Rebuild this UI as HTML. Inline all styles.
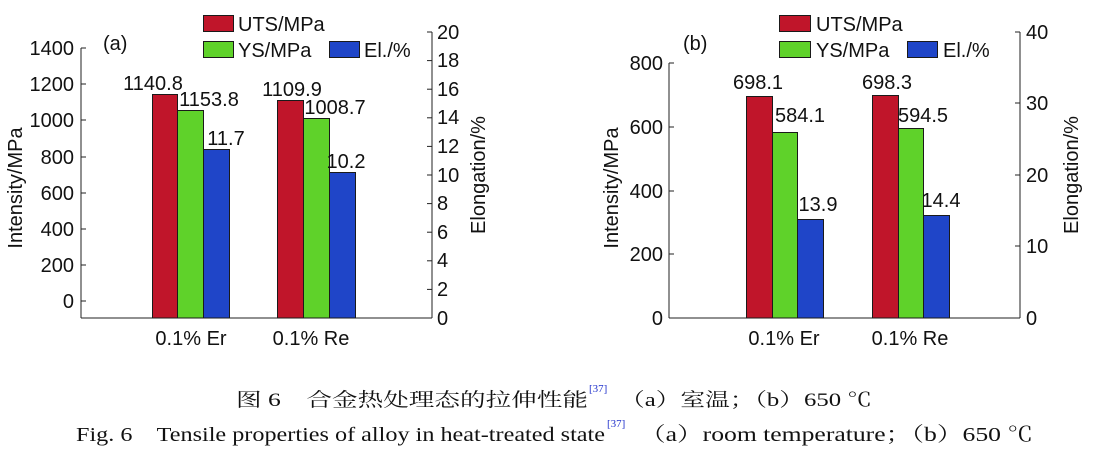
<!DOCTYPE html>
<html><head><meta charset="utf-8"><style>
html,body{margin:0;padding:0;background:#fff;}
svg{display:block;}
text{font-family:"Liberation Sans","DejaVu Sans",sans-serif;fill:#111;}
.s{font-family:"Liberation Serif","Noto Serif CJK SC",serif;}
</style></head><body>
<svg width="1108" height="456" viewBox="0 0 1108 456" xmlns="http://www.w3.org/2000/svg">
<g stroke="#222" stroke-width="1">
<line x1="81" y1="48" x2="81" y2="318"/>
<line x1="81" y1="318" x2="432" y2="318"/>
<line x1="432" y1="32" x2="432" y2="318"/>
<line x1="81" y1="48" x2="86" y2="48"/><line x1="81" y1="84" x2="86" y2="84"/><line x1="81" y1="120" x2="86" y2="120"/><line x1="81" y1="157" x2="86" y2="157"/><line x1="81" y1="193" x2="86" y2="193"/><line x1="81" y1="229" x2="86" y2="229"/><line x1="81" y1="265" x2="86" y2="265"/><line x1="81" y1="301" x2="86" y2="301"/>
<line x1="427" y1="32" x2="432" y2="32"/><line x1="427" y1="60.6" x2="432" y2="60.6"/><line x1="427" y1="89.2" x2="432" y2="89.2"/><line x1="427" y1="117.8" x2="432" y2="117.8"/><line x1="427" y1="146.4" x2="432" y2="146.4"/><line x1="427" y1="175" x2="432" y2="175"/><line x1="427" y1="203.6" x2="432" y2="203.6"/><line x1="427" y1="232.2" x2="432" y2="232.2"/><line x1="427" y1="260.8" x2="432" y2="260.8"/><line x1="427" y1="289.4" x2="432" y2="289.4"/>

<line x1="669" y1="63" x2="669" y2="318"/>
<line x1="669" y1="318" x2="1020" y2="318"/>
<line x1="1020" y1="32" x2="1020" y2="318"/>
<line x1="669" y1="63" x2="674" y2="63"/><line x1="669" y1="127" x2="674" y2="127"/><line x1="669" y1="191" x2="674" y2="191"/><line x1="669" y1="254" x2="674" y2="254"/>
<line x1="1015" y1="32" x2="1020" y2="32"/><line x1="1015" y1="103" x2="1020" y2="103"/><line x1="1015" y1="175" x2="1020" y2="175"/><line x1="1015" y1="246" x2="1020" y2="246"/>
</g>
<g stroke="#1a1a1a" stroke-width="1">
<rect x="152.5" y="94.5" width="25" height="223.5" fill="#c0152a"/>
<rect x="177.5" y="110.5" width="26" height="207.5" fill="#5fd22a"/>
<rect x="203.5" y="149.5" width="26" height="168.5" fill="#1f45c8"/>
<rect x="277.5" y="100.5" width="26" height="217.5" fill="#c0152a"/>
<rect x="303.5" y="118.5" width="26" height="199.5" fill="#5fd22a"/>
<rect x="329.5" y="172.5" width="26" height="145.5" fill="#1f45c8"/>
<rect x="203.5" y="15.5" width="30" height="16" fill="#c0152a"/>
<rect x="203.5" y="41.5" width="30" height="16" fill="#5fd22a"/>
<rect x="329.5" y="41.5" width="30" height="16" fill="#1f45c8"/>

<rect x="746.5" y="96.5" width="26" height="221.5" fill="#c0152a"/>
<rect x="772.5" y="132.5" width="25" height="185.5" fill="#5fd22a"/>
<rect x="797.5" y="219.5" width="26" height="98.5" fill="#1f45c8"/>
<rect x="872.5" y="95.5" width="26" height="222.5" fill="#c0152a"/>
<rect x="898.5" y="128.5" width="25" height="189.5" fill="#5fd22a"/>
<rect x="923.5" y="215.5" width="26" height="102.5" fill="#1f45c8"/>
<rect x="779.5" y="15.5" width="31" height="16" fill="#c0152a"/>
<rect x="779.5" y="41.5" width="31" height="16" fill="#5fd22a"/>
<rect x="907.5" y="41.5" width="30" height="16" fill="#1f45c8"/>
</g>

<g font-size="20">
<g text-anchor="end">
<text x="74" y="55">1400</text><text x="74" y="91">1200</text><text x="74" y="127">1000</text><text x="74" y="164">800</text><text x="74" y="200">600</text><text x="74" y="236">400</text><text x="74" y="272">200</text><text x="74" y="308">0</text>
</g>
<text x="437" y="39">20</text><text x="437" y="67">18</text><text x="437" y="96">16</text><text x="437" y="124">14</text><text x="437" y="153">12</text><text x="437" y="182">10</text><text x="437" y="210">8</text><text x="437" y="239">6</text><text x="437" y="267">4</text><text x="437" y="296">2</text><text x="437" y="325">0</text>
<text x="103" y="50">(a)</text>
<text x="238" y="31">UTS/MPa</text>
<text x="238" y="57">YS/MPa</text>
<text x="364" y="57">El./%</text>
<g text-anchor="middle">
<text x="153" y="90">1140.8</text>
<text x="209" y="106">1153.8</text>
<text x="226" y="145">11.7</text>
<text x="292" y="96">1109.9</text>
<text x="335" y="114">1008.7</text>
<text x="346" y="168">10.2</text>
<text x="191" y="345">0.1% Er</text>
<text x="311" y="345">0.1% Re</text>
<text transform="translate(22,188) rotate(-90)">Intensity/MPa</text>
<text transform="translate(485,175) rotate(-90)">Elongation/%</text>

<text x="758" y="89">698.1</text>
<text x="800" y="122">584.1</text>
<text x="818" y="211">13.9</text>
<text x="887" y="89">698.3</text>
<text x="923" y="122">594.5</text>
<text x="941" y="207">14.4</text>
<text x="784" y="345">0.1% Er</text>
<text x="910" y="345">0.1% Re</text>
<text transform="translate(618,188) rotate(-90)">Intensity/MPa</text>
<text transform="translate(1078,175) rotate(-90)">Elongation/%</text>
</g>
<g text-anchor="end">
<text x="663" y="70">800</text><text x="663" y="134">600</text><text x="663" y="198">400</text><text x="663" y="261">200</text><text x="663" y="325">0</text>
</g>
<text x="1026" y="39">40</text><text x="1026" y="110">30</text><text x="1026" y="182">20</text><text x="1026" y="253">10</text><text x="1026" y="325">0</text>
<text x="683" y="50">(b)</text>
<text x="816" y="31">UTS/MPa</text>
<text x="816" y="57">YS/MPa</text>
<text x="943" y="57">El./%</text>
</g>

<text class="s" x="236" y="406" font-size="19" textLength="352" lengthAdjust="spacingAndGlyphs">图 6　合金热处理态的拉伸性能</text>
<text class="s" x="589" y="392" font-size="11" style="fill:#2233cc">[37]</text>
<text class="s" x="620" y="406" font-size="19" textLength="252" lengthAdjust="spacingAndGlyphs">（a）室温；（b）650 ℃</text>
<text class="s" x="76" y="441" font-size="20" textLength="529" lengthAdjust="spacingAndGlyphs">Fig. 6　Tensile properties of alloy in heat-treated state</text>
<text class="s" x="607" y="427" font-size="11" style="fill:#2233cc">[37]</text>
<text class="s" x="640" y="441" font-size="20" textLength="393" lengthAdjust="spacingAndGlyphs">（a）room temperature；（b）650 ℃</text>
</svg>
</body></html>
